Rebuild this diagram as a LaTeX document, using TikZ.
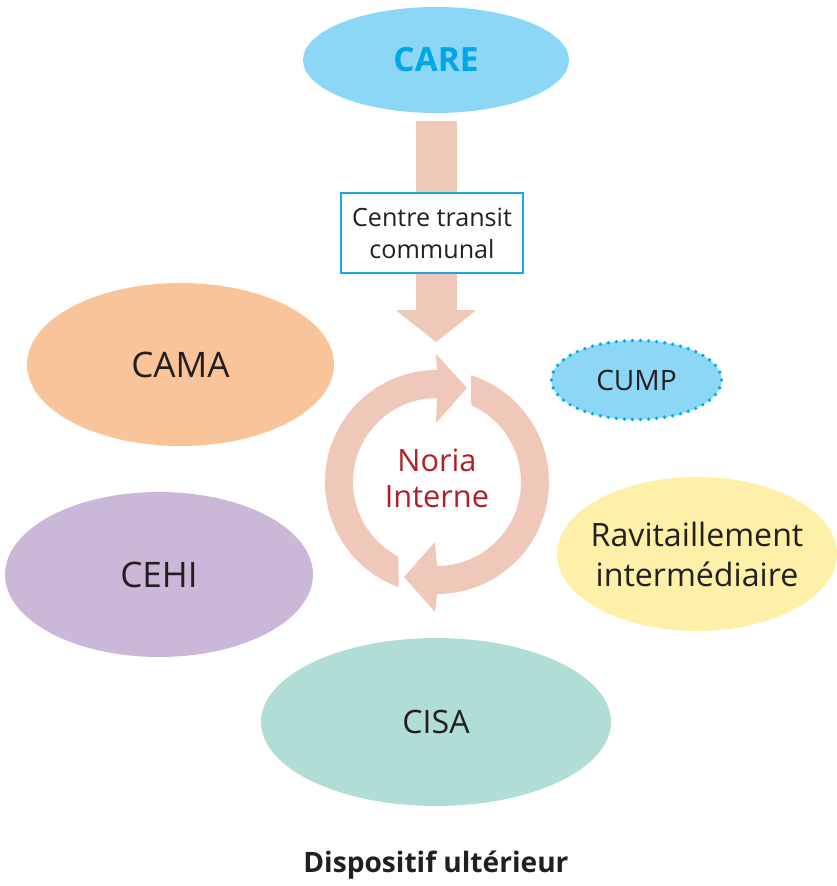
\documentclass[tikz,border=0pt]{standalone}
\usepackage{fontspec}
\setmainfont{Open Sans}
\usetikzlibrary{shapes.geometric,arrows.meta}

\definecolor{careblue}{HTML}{8DD7F6}
\definecolor{caretext}{HTML}{00A6E6}
\definecolor{camaorange}{HTML}{F9C499}
\definecolor{cehipurple}{HTML}{CBB7D8}
\definecolor{cisagreen}{HTML}{B0DED6}
\definecolor{raviyellow}{HTML}{FEF0A8}
\definecolor{flowpink}{HTML}{EFC8B9}
\definecolor{noriared}{HTML}{B11F24}
\definecolor{boxblue}{HTML}{1DA7E0}
\definecolor{dotblue}{HTML}{00AEEF}
\definecolor{ink}{HTML}{231F20}

\tikzset{
  blob/.style={ellipse, inner sep=0pt, text=ink, align=center},
  flow/.style={draw=flowpink, line width=0.82cm,
    -{Triangle[length=0.64cm, width=1.62cm, line width=0pt]}},
  ring/.style={fill=flowpink},
}

\begin{document}
\begin{tikzpicture}[x=0.02cm, y=0.02cm]
	\useasboundingbox (0,0) rectangle (836,886);

	% ellipses
	\node[blob, fill=careblue, text=caretext, minimum width=5.32cm, minimum height=2.12cm,
		font=\fontsize{19}{23}\selectfont\bfseries] (care) at (436,826) {CARE};
	\node[blob, fill=camaorange, minimum width=6.14cm, minimum height=3.26cm,
		font=\fontsize{20}{24}\selectfont] (cama) at (180.5,521.5) {CAMA};
	\node[blob, fill=cehipurple, minimum width=6.16cm, minimum height=3.3cm,
		font=\fontsize{20}{24}\selectfont] (cehi) at (159,311.5) {CEHI};
	\node[blob, fill=cisagreen, minimum width=7cm, minimum height=3.36cm,
		font=\fontsize{18.3}{22}\selectfont] (cisa) at (436,164) {CISA};
	\node[blob, fill=raviyellow, minimum width=5.6cm, minimum height=3.08cm] (ravi) at (697,332) {};
	\node[text=ink, align=center, font=\fontsize{18.3}{22.8}\selectfont] (ravitext) at (ravi.center) {Ravitaillement\\intermédiaire};
	\node[blob, fill=careblue, draw=dotblue, line width=2.2pt, line cap=round,
		dash pattern=on 0pt off 4.6pt, minimum width=3.4cm, minimum height=1.58cm,
		font=\fontsize{16}{19}\selectfont] (cump) at (636.5,506) {CUMP};

	% big arrow
	\coordinate (drop) at (436,544);
	\draw[flow] ([yshift=-0.16cm]care.south) -- (drop);
	\node[draw=boxblue, fill=white, line width=1.1pt, text=ink, align=center,
		minimum width=3.64cm, minimum height=1.6cm, inner sep=0pt,
		font=\fontsize{14.3}{18.2}\selectfont] (transit) at (432,653) {Centre transit\\communal};

	% noria
	\begin{scope}[shift={(437,404)}]
		\fill[ring] (250:112) arc[start angle=250, end angle=90, radius=112]
			-- (-1,128) -- (30,94) -- (-1,59)
			-- (90:84) arc[start angle=90, end angle=242.5, radius=84] -- cycle;
		\fill[ring] (72.4:112) arc[start angle=72.4, end angle=-90, radius=112]
			-- (-2,-130) -- (-33,-95) -- (-2,-60)
			-- (-90:84) arc[start angle=-90, end angle=65.9, radius=84] -- cycle;
		\node[text=noriared, align=center, font=\fontsize{17.5}{20.5}\selectfont] (noria) at (0,4) {Noria\\Interne};
	\end{scope}

	\node[text=ink, font=\fontsize{16}{19}\selectfont\bfseries] (title) at (436,21) {Dispositif ultérieur};
\end{tikzpicture}
\end{document}
